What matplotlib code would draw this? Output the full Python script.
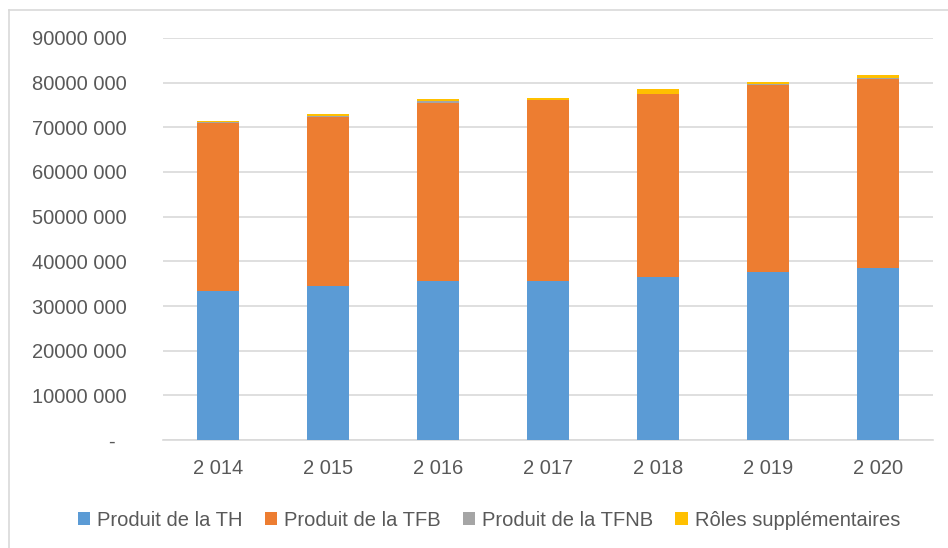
import numpy as np
import matplotlib
matplotlib.use("Agg")
from matplotlib import pyplot as plt
from matplotlib.ticker import FuncFormatter
from matplotlib.lines import Line2D

# values (euros)
years = ["2 014", "2 015", "2 016", "2 017", "2 018", "2 019", "2 020"]
produit_th = [33300000, 34500000, 35600000, 35700000, 36400000, 37700000, 38600000]
produit_tfb = [37700000, 37900000, 39900000, 40400000, 41000000, 41800000, 42300000]
produit_tfnb = [100000, 100000, 450000, 100000, 100000, 100000, 100000]
roles_supp = [400000, 400000, 450000, 400000, 1000000, 600000, 800000]

series = [
    ("Produit de la TH", produit_th, "#5B9BD5"),
    ("Produit de la TFB", produit_tfb, "#ED7D31"),
    ("Produit de la TFNB", produit_tfnb, "#A5A5A5"),
    ("Rôles supplémentaires", roles_supp, "#FFC000"),
]

plt.rcParams['font.family'] = ['Liberation Sans', 'DejaVu Sans']
txt_col = "#595959"
fs = 14.5

fig = plt.figure(figsize=(9.48, 5.48), dpi=100)
ax = fig.add_axes([163/948, 1-440/548, (933-163)/948, (440-38)/548])

x = np.arange(len(years))
bottom = np.zeros(len(years))
for name, vals, col in series:
    vals = np.array(vals, dtype=float)
    ax.bar(x, vals, 0.39, bottom=bottom, color=col, label=name, zorder=3)
    bottom += vals

def yfmt(v, pos):
    if v == 0:
        return "-  "
    n = int(round(v))
    return "%d %03d" % (n // 1000, n % 1000)

ax.set_ylim(0, 90000000)
ax.set_yticks(np.arange(0, 90000001, 10000000))
ax.yaxis.set_major_formatter(FuncFormatter(yfmt))
ax.set_xlim(-0.5, len(years) - 0.5)
ax.set_xticks(x)
ax.set_xticklabels(years)

ax.grid(axis='y', color="#D9D9D9", linewidth=1.2, zorder=0)
for s in ['top', 'right', 'left']:
    ax.spines[s].set_visible(False)
ax.spines['bottom'].set_color("#D9D9D9")
ax.spines['bottom'].set_linewidth(1.2)
ax.tick_params(axis='both', length=0, labelsize=fs, colors=txt_col)
ax.tick_params(axis='y', pad=26)
ax.tick_params(axis='x', pad=14)

# chart area border (left and top visible)
fig.add_artist(Line2D([9/948, 9/948], [0, 1-10/548], color="#D9D9D9", lw=1.2))
fig.add_artist(Line2D([9/948, 1], [1-10/548, 1-10/548], color="#D9D9D9", lw=1.2))

handles, labels = ax.get_legend_handles_labels()
leg = fig.legend(handles, labels, loc='center', bbox_to_anchor=(0.516, 1-520/548),
                 ncol=4, frameon=False, fontsize=fs, handlelength=0.6, handleheight=0.6,
                 handletextpad=0.35, columnspacing=1.1)
for t in leg.get_texts():
    t.set_color(txt_col)

fig.savefig("out.png", dpi=100)
